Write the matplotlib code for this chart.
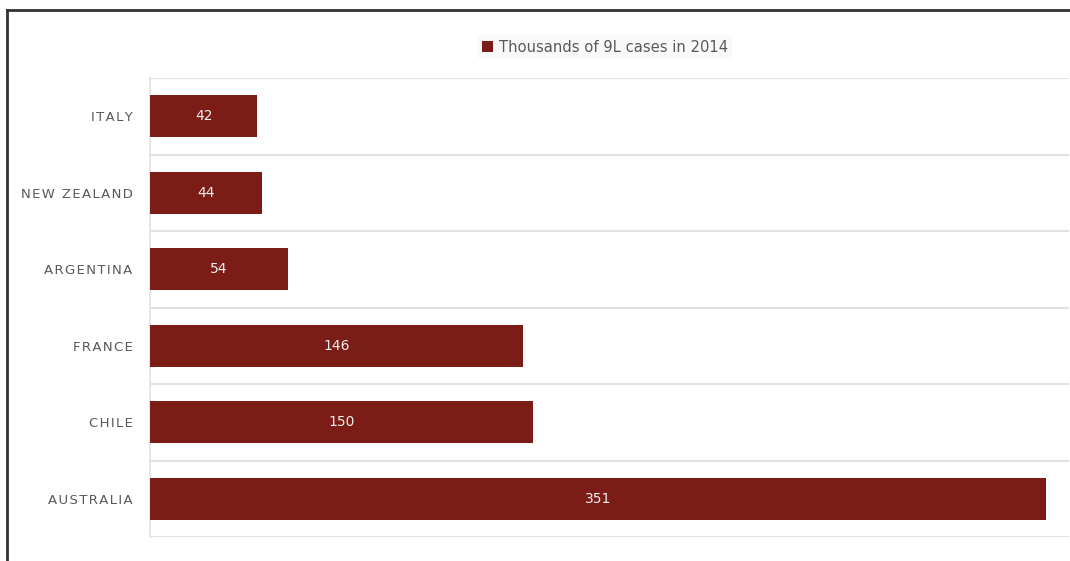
import matplotlib
matplotlib.use("Agg")
import matplotlib.pyplot as plt
from matplotlib.lines import Line2D
from matplotlib.patches import Patch

categories = ["ITALY", "NEW ZEALAND", "ARGENTINA", "FRANCE", "CHILE", "AUSTRALIA"]
values = [42, 44, 54, 146, 150, 351]
series_name = "Thousands of 9L cases in 2014"

bar_color = "#7B1C16"
grid_color = "#e2e2e2"
text_color = "#595959"


def spaced(s):
    # emulate letter spacing of the original labels with hair spaces
    return "\u200a".join(s)


fig = plt.figure(figsize=(10.7, 5.61), dpi=100)
fig.patch.set_facecolor("white")
ax = fig.add_axes([150 / 1070, 24 / 561, 919 / 1070, 459 / 561])

y = list(range(len(categories)))
bars = ax.barh(y, values, height=0.55, color=bar_color, zorder=3)
for b, v in zip(bars, values):
    ax.text(b.get_width() / 2, b.get_y() + b.get_height() / 2, str(v),
            ha="center", va="center", color="#eeeeee", fontsize=10, zorder=4)

ax.set_xlim(0, 360)
ax.set_ylim(len(categories) - 0.5, -0.5)
ax.set_yticks(y)
ax.set_yticklabels([spaced(c) for c in categories], color=text_color, fontsize=9.5,
                   va="center_baseline")
ax.set_yticks([i - 0.5 for i in range(len(categories) + 1)], minor=True)
ax.tick_params(axis="y", which="both", length=0, pad=12.5)
ax.set_xticks([])
ax.grid(axis="y", which="minor", color=grid_color, linewidth=1.5, zorder=0)
for s in ["top", "right", "bottom"]:
    ax.spines[s].set_visible(False)
ax.spines["left"].set_color(grid_color)
ax.spines["left"].set_linewidth(1.2)

leg = fig.legend(handles=[Patch(facecolor=bar_color, edgecolor="none", label=series_name)],
                 loc="center", bbox_to_anchor=(605 / 1070, 1 - 47 / 561),
                 frameon=True, fontsize=10.6, handlelength=0.7, handleheight=0.7,
                 handletextpad=0.4, borderpad=0.3, labelcolor=text_color)
leg.get_frame().set_facecolor("#f8f8f8")
leg.get_frame().set_edgecolor("none")

# outer frame (top and left edges visible)
fig.add_artist(Line2D([7 / 1070, 7 / 1070], [0, 1 - 10 / 561], transform=fig.transFigure,
                      color="#333333", linewidth=2))
fig.add_artist(Line2D([7 / 1070, 1], [1 - 10 / 561, 1 - 10 / 561], transform=fig.transFigure,
                      color="#333333", linewidth=2))

fig.savefig("out.png", dpi=100)
